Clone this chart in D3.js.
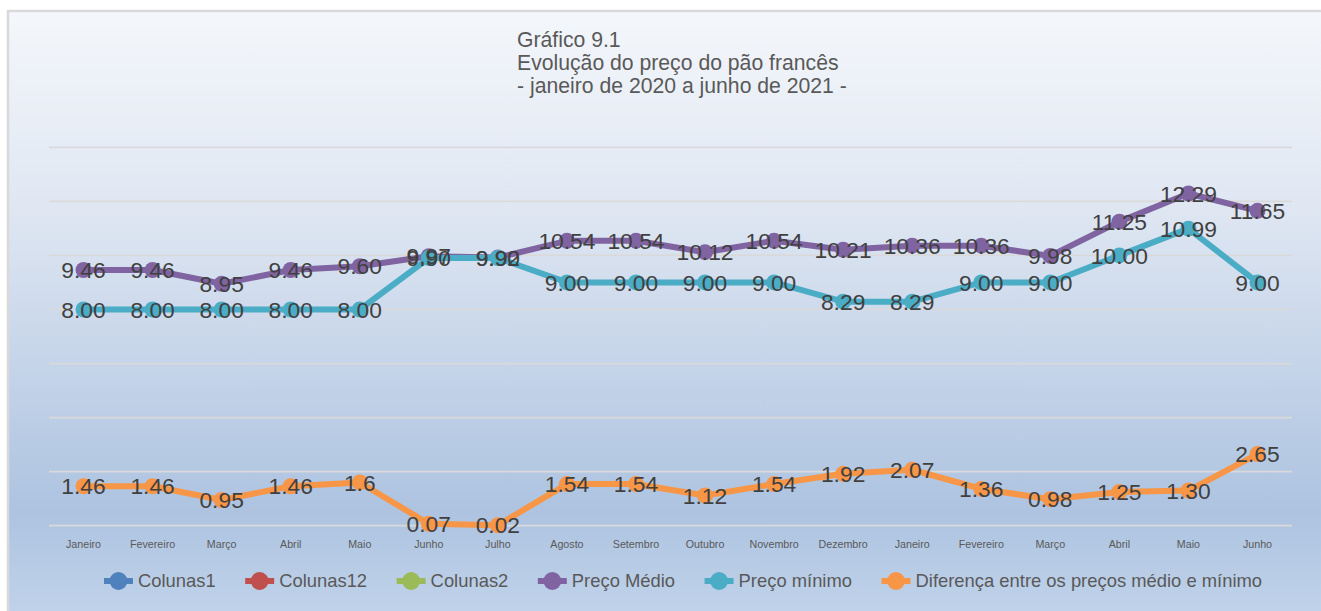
<!DOCTYPE html>
<html><head><meta charset="utf-8">
<script src="https://cdn.jsdelivr.net/npm/d3@7/dist/d3.min.js"></script>
<style>
body{margin:0;background:#fff;overflow:hidden}
svg{display:block}
text{font-family:"Liberation Sans",Arial,sans-serif}
</style>
</head><body>
<svg id="chart" width="1321" height="611"></svg>
<script>
const months = ["Janeiro","Fevereiro","Março","Abril","Maio","Junho","Julho","Agosto","Setembro","Outubro","Novembro","Dezembro","Janeiro","Fevereiro","Março","Abril","Maio","Junho"];
const precoMedio = [9.46,9.46,8.95,9.46,9.60,9.97,9.92,10.54,10.54,10.12,10.54,10.21,10.36,10.36,9.98,11.25,12.29,11.65];
const precoMinimo = [8.00,8.00,8.00,8.00,8.00,9.90,9.90,9.00,9.00,9.00,9.00,8.29,8.29,9.00,9.00,10.00,10.99,9.00];
const diferenca = [1.46,1.46,0.95,1.46,1.6,0.07,0.02,1.54,1.54,1.12,1.54,1.92,2.07,1.36,0.98,1.25,1.30,2.65];
const diferencaLabels = ["1.46","1.46","0.95","1.46","1.6","0.07","0.02","1.54","1.54","1.12","1.54","1.92","2.07","1.36","0.98","1.25","1.30","2.65"];
const yTicks = [0,2,4,6,8,10,12,14];
const titleLines = ["Gráfico 9.1","Evolução do preço do pão francês","- janeiro de 2020 a junho de 2021 -"];
const legendNames = ["Colunas1","Colunas12","Colunas2","Preço Médio","Preço mínimo","Diferença entre os preços médio e mínimo"];
const legendColors = ["#4f81bd","#c0504d","#9bbb59","#8064a2","#4bacc6","#f79646"];

const svg = d3.select("#chart");
const W = 1321, H = 611;

// background gradient
const defs = svg.append("defs");
const grad = defs.append("linearGradient").attr("id","bg").attr("x1",0).attr("y1",0).attr("x2",0).attr("y2",1);
[[0,"#f4f7fb"],[0.3,"#e1e8f3"],[0.82,"#adc3e0"],[1,"#c2d4eb"]].forEach(([o,c])=>grad.append("stop").attr("offset",o).attr("stop-color",c));
svg.append("rect").attr("x",8).attr("y",11).attr("width",W).attr("height",H).attr("fill","url(#bg)")
  .attr("stroke","#d9d9d9").attr("stroke-width",2.5);

// title
const title = svg.append("text").attr("x",517).attr("y",47).attr("fill","#595959").attr("font-size",21.2);
titleLines.forEach((t,i)=>title.append("tspan").attr("x",517).attr("y",47+i*23).text(t));

// scales
const x = d3.scaleBand().domain(d3.range(months.length)).range([49,1292]);
const y = d3.scaleLinear().domain([0,14]).range([525.7,147.3]);
const cx = i => x(i) + x.bandwidth()/2;

// gridlines
svg.append("g").selectAll("line").data(yTicks).join("line")
  .attr("x1",49).attr("x2",1292).attr("y1",d=>y(d)).attr("y2",d=>y(d))
  .attr("stroke","#d9d9d9").attr("stroke-width",1.75);

// x axis
const xAxis = svg.append("g").attr("transform","translate(0,525.7)")
  .call(d3.axisBottom(x).tickFormat(i=>months[i]).tickSize(0).tickPadding(15));
xAxis.select(".domain").remove();
xAxis.selectAll("text").attr("fill","#595959").attr("font-size",10.7).attr("font-family","'Liberation Sans',Arial,sans-serif");

const series = [
  {vals:precoMedio, color:"#8064a2", labels:precoMedio.map(v=>v.toFixed(2))},
  {vals:precoMinimo, color:"#4bacc6", labels:precoMinimo.map(v=>v.toFixed(2))},
  {vals:diferenca, color:"#f79646", labels:diferencaLabels}
];
const line = d3.line().x((d,i)=>cx(i)).y(d=>y(d));
series.forEach(s=>{
  const g = svg.append("g");
  g.append("path").datum(s.vals).attr("d",line).attr("fill","none").attr("stroke",s.color)
    .attr("stroke-width",6).attr("stroke-linejoin","round");
  g.selectAll("circle").data(s.vals).join("circle").attr("cx",(d,i)=>cx(i)).attr("cy",d=>y(d))
    .attr("r",8).attr("fill",s.color);
});
series.forEach(s=>{
  svg.append("g").selectAll("text").data(s.vals).join("text")
    .attr("x",(d,i)=>cx(i)).attr("y",d=>y(d)).attr("dy","0.36em")
    .attr("text-anchor","middle").attr("font-size",22.8).attr("fill","#404040")
    .text((d,i)=>s.labels[i]);
});

// legend
const lg = svg.append("g");
let lx = 0;
legendNames.forEach((n,i)=>{
  const it = lg.append("g");
  it.append("line").attr("x1",-14.5).attr("x2",14.5).attr("y1",0).attr("y2",0).attr("stroke",legendColors[i]).attr("stroke-width",6);
  it.append("circle").attr("r",9).attr("fill",legendColors[i]);
  const t = it.append("text").attr("x",19.5).attr("dy","0.35em").attr("font-size",18.4).attr("fill","#595959").text(n);
  const w = t.node().getComputedTextLength();
  it.attr("transform",`translate(${lx},581)`);
  lx += 19.5 + w + 44;
});
const totalStart = -14.5, totalEnd = lx - 44;
const shift = 683 - (totalStart+totalEnd)/2;
lg.attr("transform",`translate(${shift},0)`);
</script>
</body></html>
